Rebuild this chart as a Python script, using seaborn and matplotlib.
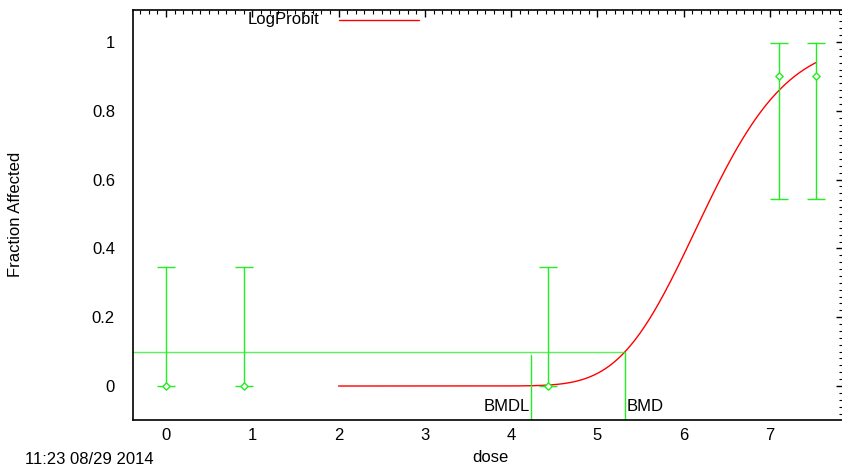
import numpy as np
import pandas as pd
import matplotlib
matplotlib.use("Agg")
import matplotlib.pyplot as plt
import seaborn as sns
from matplotlib.ticker import MultipleLocator, FuncFormatter
from math import erf, sqrt

# observed dose groups
dose = [0.0, 0.9, 4.43, 7.1, 7.53]
fraction = [0.0, 0.0, 0.0, 0.9, 0.9]
ci_low = [0.0, 0.0, 0.0, 0.544, 0.544]
ci_high = [0.345, 0.345, 0.345, 0.997, 0.997]

# fitted LogProbit model: P = Phi(intercept + slope * ln(dose))
probit_intercept = -14.93
probit_slope = 8.165
curve_start, curve_end = 2.0, 7.53

# benchmark dose results
bmr = 0.1
bmd = 5.32
bmdl = 4.23
bmdl_top = 0.09

GREEN = "#22ee22"
RED = "#ff0000"
FS = 12

sns.set_style("white")
plt.rcParams["font.family"] = ["Liberation Sans", "DejaVu Sans"]
plt.rcParams["text.color"] = "black"

fig = plt.figure(figsize=(8.42, 4.68), dpi=100)
ax = fig.add_axes([133 / 842, 1 - 420 / 468, 710 / 842, 410 / 468])

# model curve
phi = np.vectorize(lambda z: 0.5 * (1 + erf(z / sqrt(2))))
xs = np.linspace(curve_start, curve_end, 300)
curve = pd.DataFrame({"dose": xs,
                      "p": phi(probit_intercept + probit_slope * np.log(xs))})
sns.lineplot(data=curve, x="dose", y="p", color=RED, lw=1.0, ax=ax,
             legend=False)

# confidence intervals and observed fractions
obs = pd.DataFrame({"dose": dose, "fraction": fraction,
                    "lo": ci_low, "hi": ci_high})
ax.errorbar(obs["dose"], obs["fraction"],
            yerr=[obs["fraction"] - obs["lo"], obs["hi"] - obs["fraction"]],
            fmt="none", ecolor=GREEN, elinewidth=1.0, capsize=6.5, capthick=1.0)
sns.scatterplot(data=obs, x="dose", y="fraction", marker="D", s=14,
                facecolor="white", edgecolor=GREEN, linewidth=1.0, ax=ax,
                zorder=4)

# BMR / BMD / BMDL reference lines
ylo = -0.0988
ax.plot([-0.382, bmd], [bmr, bmr], color=GREEN, lw=1.0, alpha=0.75)
ax.plot([bmd, bmd], [ylo, bmr], color=GREEN, lw=1.0)
ax.plot([bmdl, bmdl], [ylo, bmdl_top], color=GREEN, lw=1.0)
ax.text(bmdl - 0.01, -0.06, "BMDL", ha="right", va="center", fontsize=FS,
        color="black")
ax.text(bmd + 0.02, -0.06, "BMD", ha="left", va="center", fontsize=FS,
        color="black")

# legend entry
ax.text(0.95, 1.064, "LogProbit", ha="left", va="center", fontsize=FS,
        color="black")
ax.plot([2.0, 2.93], [1.064, 1.064], color=RED, lw=1.0)

ax.set_xlim(-0.382, 7.845)
ax.set_ylim(ylo, 1.093)
ax.xaxis.set_major_locator(MultipleLocator(1))
ax.xaxis.set_minor_locator(MultipleLocator(0.1))
ax.yaxis.set_major_locator(MultipleLocator(0.2))
ax.yaxis.set_minor_locator(MultipleLocator(0.02))
ax.yaxis.set_major_formatter(FuncFormatter(
    lambda v, p: "0" if abs(v) < 1e-9 else ("1" if abs(v - 1) < 1e-9 else f"{v:.1f}")))
ax.tick_params(which="both", direction="in", top=True, right=True,
               colors="black", labelsize=FS)
ax.tick_params(which="major", length=5, width=1.0)
ax.tick_params(which="minor", length=3, width=0.8)
ax.tick_params(axis="x", pad=6)
ax.tick_params(axis="y", pad=13)
for s in ax.spines.values():
    s.set_color("black")
    s.set_linewidth(1.2)

ax.set_xlabel("")
ax.set_ylabel("")
fig.text(490 / 842, 1 - 457 / 468, "dose", ha="center", va="center",
         fontsize=FS, color="black")
fig.text(16 / 842, 1 - 214 / 468, "Fraction Affected", ha="center",
         va="center", rotation=90, fontsize=FS, color="black")

fig.text(25 / 842, 0.5 / 468, "11:23 08/29 2014", ha="left", va="bottom",
         fontsize=FS, color="black")

fig.savefig("out.png", dpi=100)
